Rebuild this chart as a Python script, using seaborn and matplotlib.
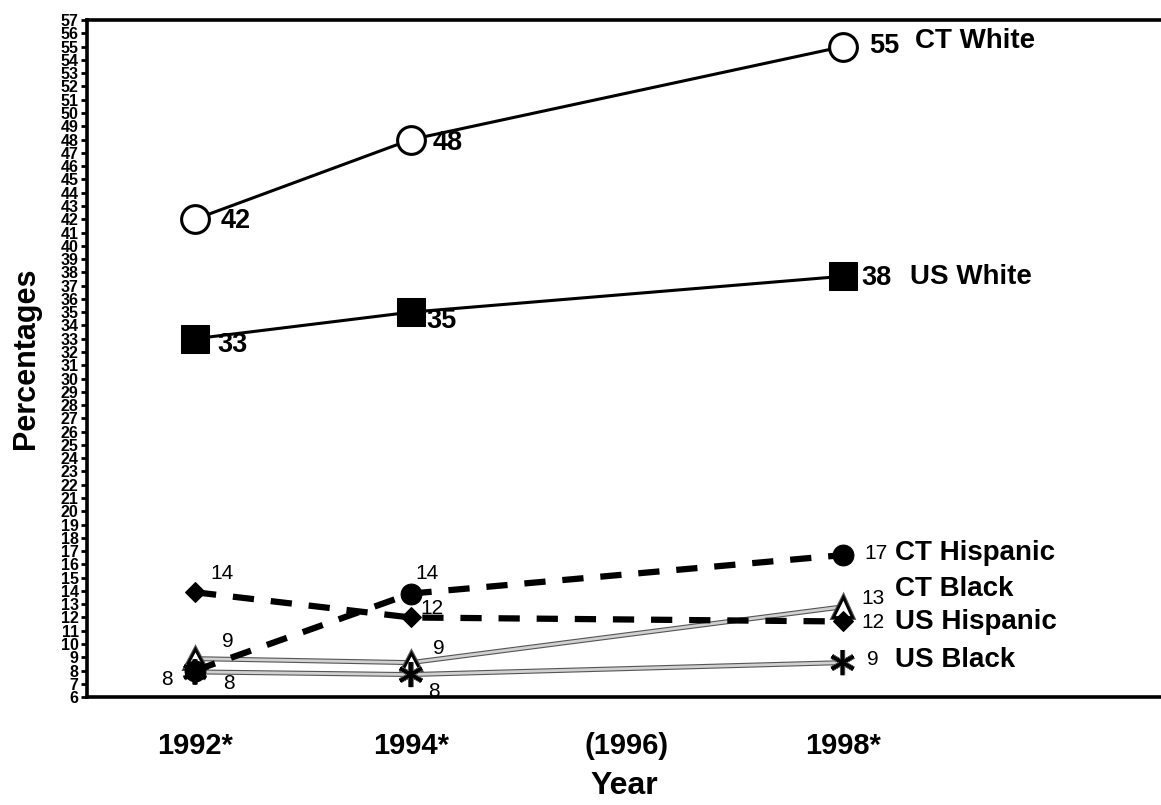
import matplotlib
matplotlib.use("Agg")
import matplotlib.pyplot as plt
import matplotlib.patheffects as pe
import seaborn as sns
import pandas as pd

# ---------------- data ----------------
years = [1992, 1994, 1998]
ct_white = [42, 48, 55]
us_white = [33, 35, 37.7]
ct_hispanic = [8, 13.8, 16.7]
us_hispanic = [13.9, 12, 11.7]
ct_black = [8.9, 8.6, 12.8]
us_black = [7.9, 7.7, 8.6]

ct_white_labels = ["42", "48", "55"]
us_white_labels = ["33", "35", "38"]
ct_hispanic_labels = ["8", "14", "17"]
us_hispanic_labels = ["14", "12", "12"]
ct_black_labels = ["9", "9", "13"]
us_black_labels = ["8", "8", "9"]

series_names = ["CT White", "US White", "CT Hispanic", "CT Black", "US Hispanic", "US Black"]

tick_years = [1992, 1994, 1996, 1998]
tick_labels = ["1992*", "1994*", "(1996)", "1998*"]
y_ticks = list(range(6, 58))

# ---------------- style ----------------
sns.set_theme(style="white")
plt.rcParams["font.family"] = ["Liberation Sans", "DejaVu Sans"]
for k in ["text.color", "axes.labelcolor", "xtick.color", "ytick.color", "axes.edgecolor"]:
    plt.rcParams[k] = "black"

fig = plt.figure(figsize=(11.61, 8.05), dpi=100)
ax = fig.add_axes([0.075, 0.134, 0.925, 0.841])

gray_fx = [pe.Stroke(linewidth=3.6, foreground="#555555"), pe.Normal()]

specs = [
    (ct_black, dict(color="#d0d0d0", lw=2.0, path_effects=gray_fx, marker="^", ms=14,
                    mfc="white", mec="black", mew=2, zorder=3)),
    (us_black, dict(color="#d0d0d0", lw=2.0, path_effects=gray_fx, marker=(6, 2, 0), ms=18,
                    mec="black", mew=2.2, zorder=3)),
    (us_hispanic, dict(color="black", lw=4.5, linestyle=(0, (3.4, 2.7)), marker="D", ms=10.5,
                       mfc="black", mec="black", zorder=4)),
    (ct_hispanic, dict(color="black", lw=4.5, linestyle=(0, (3.4, 2.7)), marker="o", ms=15,
                       mfc="black", mec="black", zorder=5)),
    (us_white, dict(color="black", lw=2.2, marker="s", ms=20, mfc="black", mec="black", zorder=4)),
    (ct_white, dict(color="black", lw=2.2, marker="o", ms=20, mfc="white", mec="black", mew=2.2,
                    zorder=4)),
]
for vals, kw in specs:
    df = pd.DataFrame({"Year": years, "Pct": vals})
    sns.lineplot(data=df, x="Year", y="Pct", ax=ax, **kw)

ax.set_xlim(1991, 2000.95)
ax.set_ylim(6, 57)

# ---------------- value labels ----------------
def lab(vals, labels, offsets, size, weight, ha="left"):
    for i, (x, v, t, off) in enumerate(zip(years, vals, labels, offsets)):
        h = ha if isinstance(ha, str) else ha[i]
        ax.annotate(t, xy=(x, v), xytext=off, textcoords="offset pixels",
                    ha=h, va="center", fontsize=size, fontweight=weight, color="black", zorder=6)

lab(ct_white, ct_white_labels, [(26, -2), (22, -3), (27, 1)], 19.5, "bold")
lab(us_white, us_white_labels, [(22, -6), (15, -9), (19, -2)], 19.5, "bold")
lab(us_hispanic, us_hispanic_labels, [(15, 19), (10, 9), (19, -1)], 15, "normal")
lab(ct_hispanic, ct_hispanic_labels, [(-22, -9), (5, 20), (22, 2)], 15, "normal",
    ha=["right", "left", "left"])
lab(ct_black, ct_black_labels, [(27, 17), (22, 14), (19, 8)], 15, "normal")
lab(us_black, us_black_labels, [(28, -12), (17, -17), (24, 3)], 15, "normal")

name_specs = [
    (ct_white, "CT White", (72, 6)),
    (us_white, "US White", (67, -1)),
    (ct_hispanic, "CT Hispanic", (52, 2)),
    (ct_black, "CT Black", (52, 18)),
    (us_hispanic, "US Hispanic", (52, -1)),
    (us_black, "US Black", (52, 3)),
]
for vals, name, off in name_specs:
    ax.annotate(name, xy=(years[-1], vals[-1]), xytext=off, textcoords="offset pixels",
                ha="left", va="center", fontsize=20, fontweight="bold", color="black", zorder=6)

# ---------------- axes ----------------
ax.set_xticks(tick_years)
ax.set_xticklabels(tick_labels, fontsize=21, fontweight="bold")
ax.tick_params(axis="x", length=0, pad=25)
ax.set_yticks(y_ticks)
ax.set_yticklabels([str(t) for t in y_ticks], fontsize=11.5, fontweight="bold")
ax.tick_params(axis="y", length=4, width=2, pad=2, left=True, direction="out", color="black")

ax.set_xlabel("Year", fontsize=23, fontweight="bold", labelpad=8)
ax.set_ylabel("Percentages", fontsize=22, fontweight="bold", labelpad=14)

for side in ["left", "bottom", "top"]:
    ax.spines[side].set_visible(True)
    ax.spines[side].set_color("black")
    ax.spines[side].set_linewidth(2.6)
ax.spines["right"].set_visible(False)
ax.grid(False)
ax.set_facecolor("white")

fig.savefig("out.png", dpi=100, facecolor="white")
